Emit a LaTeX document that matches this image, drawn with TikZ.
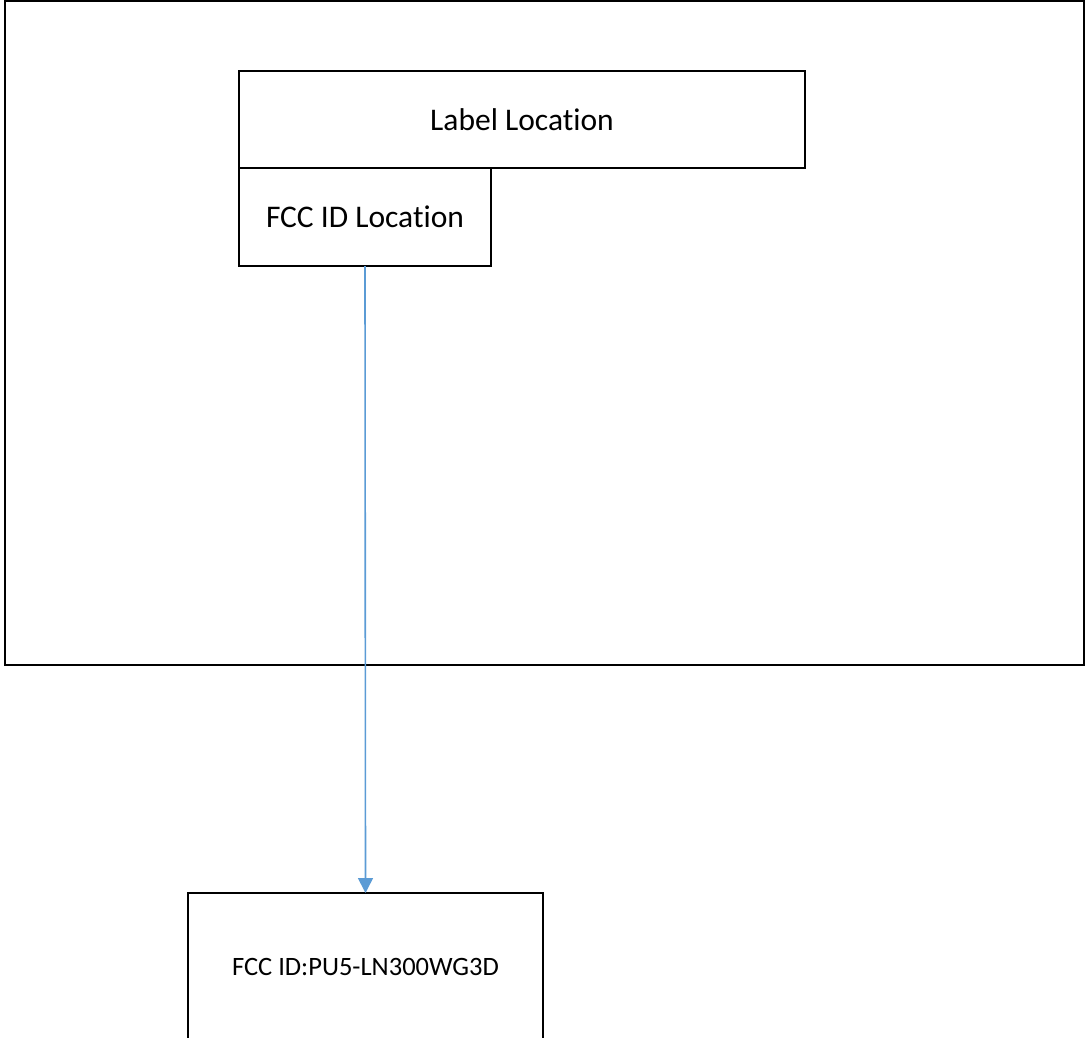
\documentclass[tikz,border=0pt]{standalone}
\usepackage{fontspec}
\setmainfont[Ligatures=NoCommon]{Carlito}
\usetikzlibrary{arrows.meta}
\definecolor{arrowblue}{HTML}{5B9BD5}
\begin{document}
\begin{tikzpicture}[x=1pt,y=1pt,
  boxstyle/.style={draw=black,line width=2.5pt,rectangle,inner sep=0pt,outer sep=0pt,align=center},
  bigtext/.style={font=\fontsize{31.5}{36}\selectfont},
  smalltext/.style={font=\fontsize{26.5}{31}\selectfont},
  connector/.style={draw=arrowblue,line width=1.6pt,-{Triangle[width=15pt,length=15pt]}}]
\useasboundingbox (0,0) rectangle (1085,-1037);
\clip (0,0) rectangle (1085,-1037);
\node[boxstyle,minimum width=1079pt,minimum height=664pt] (frame) at (544.5,-333) {};
\node[boxstyle,bigtext,minimum width=566pt,minimum height=97pt] (label) at (522,-119.5) {Label Location};
\node[boxstyle,bigtext,minimum width=252pt,minimum height=98pt] (fcc) at (365,-217) {FCC ID Location};
\node[boxstyle,smalltext,minimum width=355pt,minimum height=147pt] (target) at (365.5,-966.5) {FCC ID:PU5-LN300WG3D};
\draw[connector] (fcc.south) -- (target.north);
\end{tikzpicture}
\end{document}
